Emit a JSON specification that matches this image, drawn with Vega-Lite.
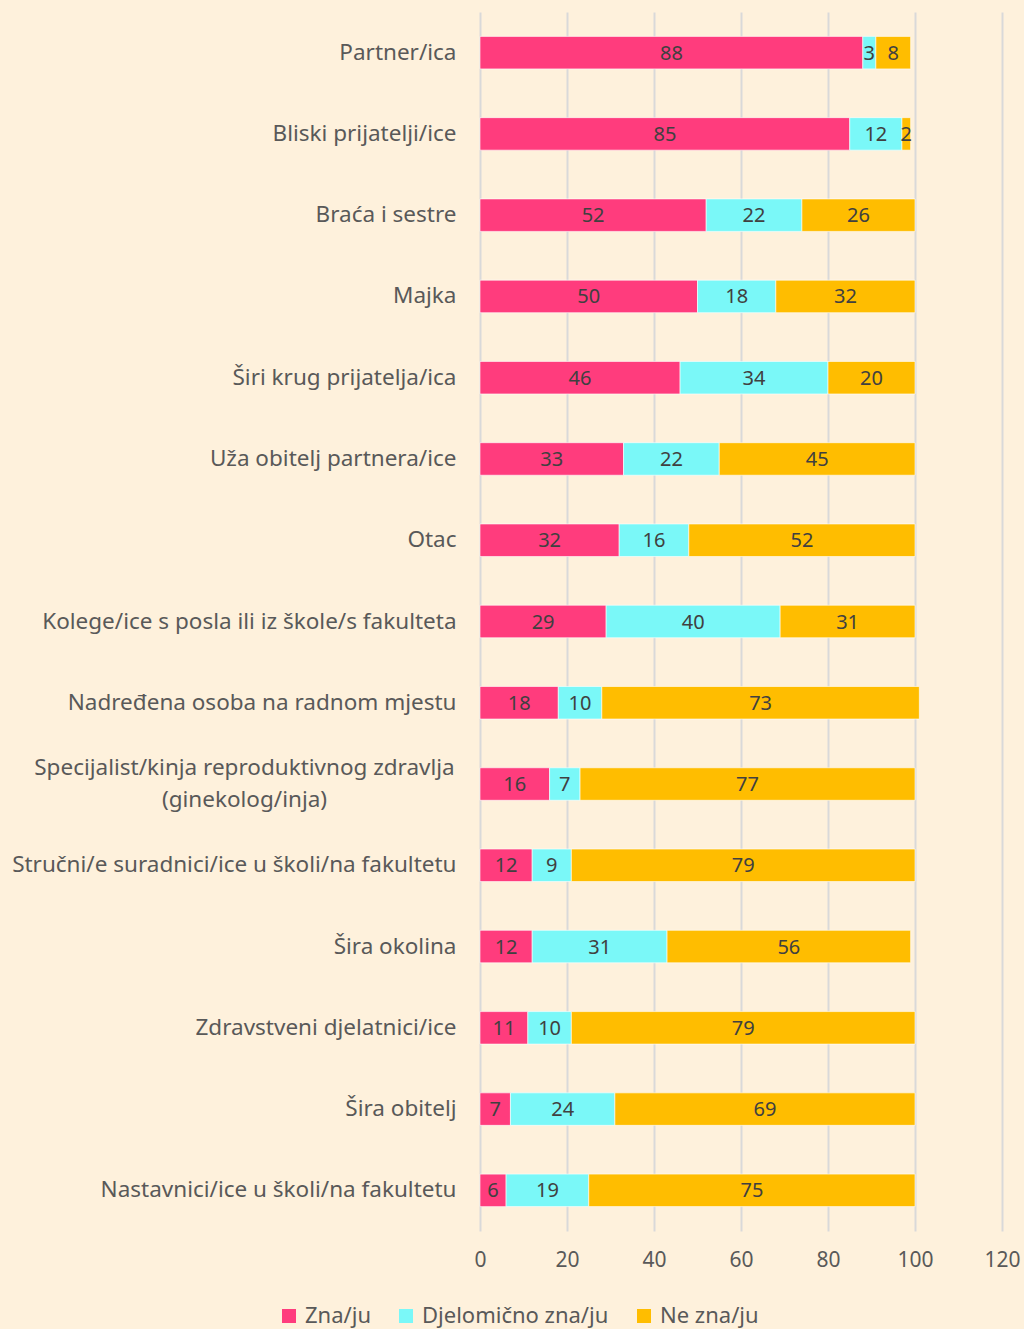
{
  "$schema": "https://vega.github.io/schema/vega-lite/v6.json",
  "width": 522,
  "height": 1219,
  "autosize": {"type": "none"},
  "padding": {"left": 480, "top": 12, "right": 22, "bottom": 98},
  "background": "#FEF1DC",
  "config": {
    "view": {"stroke": null},
    "font": "Noto Sans",
    "axis": {"labelFont": "Noto Sans", "labelColor": "#595959", "labelFontSize": 21, "ticks": false, "domain": false, "gridColor": "#D9D9D9", "gridWidth": 2},
    "legend": {"labelFont": "Noto Sans", "labelColor": "#595959", "labelFontSize": 22, "labelLimit": 400}
  },
  "data": {
    "values": [
      {"cat": "Partner/ica", "grp": "Zna/ju", "r": 1, "v": 88},
      {"cat": "Partner/ica", "grp": "Djelomično zna/ju", "r": 2, "v": 3},
      {"cat": "Partner/ica", "grp": "Ne zna/ju", "r": 3, "v": 8},
      {"cat": "Bliski prijatelji/ice", "grp": "Zna/ju", "r": 1, "v": 85},
      {"cat": "Bliski prijatelji/ice", "grp": "Djelomično zna/ju", "r": 2, "v": 12},
      {"cat": "Bliski prijatelji/ice", "grp": "Ne zna/ju", "r": 3, "v": 2},
      {"cat": "Braća i sestre", "grp": "Zna/ju", "r": 1, "v": 52},
      {"cat": "Braća i sestre", "grp": "Djelomično zna/ju", "r": 2, "v": 22},
      {"cat": "Braća i sestre", "grp": "Ne zna/ju", "r": 3, "v": 26},
      {"cat": "Majka", "grp": "Zna/ju", "r": 1, "v": 50},
      {"cat": "Majka", "grp": "Djelomično zna/ju", "r": 2, "v": 18},
      {"cat": "Majka", "grp": "Ne zna/ju", "r": 3, "v": 32},
      {"cat": "Širi krug prijatelja/ica", "grp": "Zna/ju", "r": 1, "v": 46},
      {"cat": "Širi krug prijatelja/ica", "grp": "Djelomično zna/ju", "r": 2, "v": 34},
      {"cat": "Širi krug prijatelja/ica", "grp": "Ne zna/ju", "r": 3, "v": 20},
      {"cat": "Uža obitelj partnera/ice", "grp": "Zna/ju", "r": 1, "v": 33},
      {"cat": "Uža obitelj partnera/ice", "grp": "Djelomično zna/ju", "r": 2, "v": 22},
      {"cat": "Uža obitelj partnera/ice", "grp": "Ne zna/ju", "r": 3, "v": 45},
      {"cat": "Otac", "grp": "Zna/ju", "r": 1, "v": 32},
      {"cat": "Otac", "grp": "Djelomično zna/ju", "r": 2, "v": 16},
      {"cat": "Otac", "grp": "Ne zna/ju", "r": 3, "v": 52},
      {"cat": "Kolege/ice s posla ili iz škole/s fakulteta", "grp": "Zna/ju", "r": 1, "v": 29},
      {"cat": "Kolege/ice s posla ili iz škole/s fakulteta", "grp": "Djelomično zna/ju", "r": 2, "v": 40},
      {"cat": "Kolege/ice s posla ili iz škole/s fakulteta", "grp": "Ne zna/ju", "r": 3, "v": 31},
      {"cat": "Nadređena osoba na radnom mjestu", "grp": "Zna/ju", "r": 1, "v": 18},
      {"cat": "Nadređena osoba na radnom mjestu", "grp": "Djelomično zna/ju", "r": 2, "v": 10},
      {"cat": "Nadređena osoba na radnom mjestu", "grp": "Ne zna/ju", "r": 3, "v": 73},
      {"cat": "Specijalist/kinja reproduktivnog zdravlja|(ginekolog/inja)", "grp": "Zna/ju", "r": 1, "v": 16},
      {"cat": "Specijalist/kinja reproduktivnog zdravlja|(ginekolog/inja)", "grp": "Djelomično zna/ju", "r": 2, "v": 7},
      {"cat": "Specijalist/kinja reproduktivnog zdravlja|(ginekolog/inja)", "grp": "Ne zna/ju", "r": 3, "v": 77},
      {"cat": "Stručni/e suradnici/ice u školi/na fakultetu", "grp": "Zna/ju", "r": 1, "v": 12},
      {"cat": "Stručni/e suradnici/ice u školi/na fakultetu", "grp": "Djelomično zna/ju", "r": 2, "v": 9},
      {"cat": "Stručni/e suradnici/ice u školi/na fakultetu", "grp": "Ne zna/ju", "r": 3, "v": 79},
      {"cat": "Šira okolina", "grp": "Zna/ju", "r": 1, "v": 12},
      {"cat": "Šira okolina", "grp": "Djelomično zna/ju", "r": 2, "v": 31},
      {"cat": "Šira okolina", "grp": "Ne zna/ju", "r": 3, "v": 56},
      {"cat": "Zdravstveni djelatnici/ice", "grp": "Zna/ju", "r": 1, "v": 11},
      {"cat": "Zdravstveni djelatnici/ice", "grp": "Djelomično zna/ju", "r": 2, "v": 10},
      {"cat": "Zdravstveni djelatnici/ice", "grp": "Ne zna/ju", "r": 3, "v": 79},
      {"cat": "Šira obitelj", "grp": "Zna/ju", "r": 1, "v": 7},
      {"cat": "Šira obitelj", "grp": "Djelomično zna/ju", "r": 2, "v": 24},
      {"cat": "Šira obitelj", "grp": "Ne zna/ju", "r": 3, "v": 69},
      {"cat": "Nastavnici/ice u školi/na fakultetu", "grp": "Zna/ju", "r": 1, "v": 6},
      {"cat": "Nastavnici/ice u školi/na fakultetu", "grp": "Djelomično zna/ju", "r": 2, "v": 19},
      {"cat": "Nastavnici/ice u školi/na fakultetu", "grp": "Ne zna/ju", "r": 3, "v": 75}
    ]
  },
  "encoding": {
    "y": {
      "field": "cat", "type": "nominal", "sort": null,
      "scale": {"paddingInner": 0.6, "paddingOuter": 0.3},
      "axis": {
        "title": null, "grid": false, "labelFontSize": 22.5,
        "labelExpr": "split(datum.label, '|')", "labelLineHeight": 32, "labelLimit": 480,
        "labelPadding": {"condition": {"test": "indexof(datum.value, '|') >= 0", "value": 236}, "value": 24},
        "labelAlign": {"condition": {"test": "indexof(datum.value, '|') >= 0", "value": "center"}, "value": "right"},
        "labelOffset": {"condition": {"test": "indexof(datum.value, '|') >= 0", "value": -16}, "value": 0}
      }
    }
  },
  "layer": [
    {
      "mark": {"type": "bar", "stroke": "#FFFFFF", "strokeWidth": 1, "strokeOpacity": 0.6},
      "encoding": {
        "x": {
          "field": "v", "type": "quantitative", "stack": "zero",
          "scale": {"domain": [0, 120], "nice": false},
          "axis": {"title": null, "values": [0, 20, 40, 60, 80, 100, 120], "labelPadding": 18, "labelFlush": false, "grid": true}
        },
        "order": {"field": "r", "type": "quantitative", "sort": "ascending"},
        "color": {
          "field": "grp", "type": "nominal",
          "sort": ["Zna/ju", "Djelomično zna/ju", "Ne zna/ju"],
          "scale": {"domain": ["Zna/ju", "Djelomično zna/ju", "Ne zna/ju"], "range": ["#FF3C7D", "#7AF8F8", "#FFBD00"]},
          "legend": {"title": null, "orient": "none", "direction": "horizontal", "legendX": -202, "legendY": 1293, "symbolType": "square", "symbolSize": 196, "symbolStrokeWidth": 0, "symbolOpacity": 1, "columnPadding": 24, "labelOffset": 5}
        }
      }
    },
    {
      "mark": {"type": "text", "fontSize": 20, "color": "#404040", "baseline": "middle", "dy": 1},
      "encoding": {
        "x": {"field": "v", "type": "quantitative", "stack": "zero", "bandPosition": 0.5},
        "order": {"field": "r", "type": "quantitative", "sort": "ascending"},
        "detail": {"field": "grp"},
        "text": {"field": "v", "type": "quantitative"}
      }
    }
  ]
}
